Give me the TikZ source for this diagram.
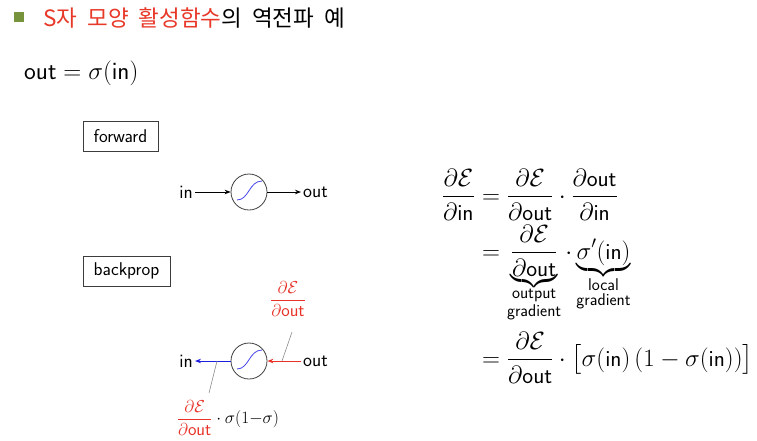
\documentclass[tikz,border=0pt]{standalone}
\usepackage{amsmath}
\usepackage{fontspec}
\newfontfamily\krfont{Noto Sans CJK KR}
\renewcommand{\familydefault}{\sfdefault}
\usetikzlibrary{arrows.meta}
\definecolor{bulletgreen}{RGB}{119,147,60}
\definecolor{titlered}{RGB}{232,56,40}
\definecolor{sigblue}{RGB}{70,70,235}
\definecolor{backblue}{RGB}{30,30,225}
\definecolor{backred}{RGB}{232,50,40}
\definecolor{framegray}{RGB}{60,60,60}
\newcommand{\sfo}{\mathsf{out}}
\newcommand{\sfi}{\mathsf{in}}
\newcommand{\cE}{\mathcal{E}}
\newcommand{\krsp}{\hspace{10pt}}
\newcommand{\sublabel}[2]{\mbox{\fontsize{17}{15}\selectfont\shortstack{#1\\#2}}}
\tikzset{
  bulletsq/.style={fill=bulletgreen, minimum size=10pt, inner sep=0pt},
  labelbox/.style={draw=framegray, line width=0.8pt, minimum height=30pt, inner sep=0pt, font=\fontsize{18.5}{20}\selectfont},
  neuron/.style={circle, draw=black!75, line width=0.8pt, minimum size=36pt, inner sep=0pt},
  lbl/.style={font=\fontsize{19}{21}\selectfont, inner sep=2pt},
  arr/.style={line width=0.8pt, -{Stealth[length=6pt,width=4.5pt]}},
  barr/.style={line width=1pt, -{Stealth[length=6pt,width=4.5pt]}},
  pointer/.style={draw=black!45, line width=0.6pt},
  sigcurve/.style={draw=sigblue, line width=0.8pt},
  eqrow/.style={font=\fontsize{23}{27}\selectfont, inner sep=0pt},
}
\begin{document}
\begin{tikzpicture}[x=1pt,y=-1pt]
\useasboundingbox (0,0) rectangle (757,440);
\fill[white] (0,0) rectangle (757,440);

% title
\node[bulletsq] (bullet) at (19,17) {};
\node[anchor=west, inner sep=0pt, font=\krfont\fontsize{22.5}{26}\selectfont] (title) at (43,18)
  {\textcolor{titlered}{S자\krsp 모양\krsp 활성함수}의\krsp 역전파\krsp 예};

% definition
\node[anchor=west, inner sep=0pt, font=\fontsize{25}{29}\selectfont] (def) at (24,73) {$\sfo = \sigma(\sfi)$};

% boxes
\node[labelbox, minimum width=75pt] (fwd) at (120.5,136) {forward};
\node[labelbox, minimum width=87pt] (bp) at (126.5,271) {backprop};

% forward diagram
\node[neuron] (n1) at (249,192) {};
\node[lbl, anchor=east] (in1) at (195,192) {in};
\node[lbl, anchor=west] (out1) at (301,192) {out};
\draw[arr] (in1) -- (n1);
\draw[arr] (n1) -- (out1);
\draw[sigcurve] ([shift={(-12,8)}]n1.center) .. controls ([shift={(0,8)}]n1.center) and ([shift={(0,-11)}]n1.center) .. ([shift={(13,-11)}]n1.center);

% backprop diagram
\node[neuron] (n2) at (249,361) {};
\node[lbl, anchor=east] (in2) at (195,361) {in};
\node[lbl, anchor=west] (out2) at (301,361) {out};
\draw[barr, backblue] (n2) -- (in2);
\draw[barr, backred] (out2) -- (n2);
\draw[sigcurve] ([shift={(-12,8)}]n2.center) .. controls ([shift={(0,8)}]n2.center) and ([shift={(0,-11)}]n2.center) .. ([shift={(13,-11)}]n2.center);

\node[font=\fontsize{18}{20}\selectfont, text=backred, inner sep=0pt] (gout) at (288,299) {$\dfrac{\partial\cE}{\partial\sfo}$};
\node[font=\fontsize{18}{20}\selectfont, inner sep=0pt] (gin) at (228,418) {$\color{backred}\dfrac{\partial\cE}{\partial\sfo}\color{black}\cdot\sigma(1{-}\sigma)$};
\coordinate (pr) at (282,361);
\coordinate (prs) at (292,332);
\coordinate (pb) at (217,361);
\coordinate (pbs) at (209,393);
\draw[pointer] (prs) -- (pr);
\draw[pointer] (pb) -- (pbs);

% equations
\node[eqrow, anchor=base east] (lhs) at (475,203) {$\displaystyle\frac{\partial\cE}{\partial\sfi}$};
\node[eqrow, anchor=base west] (row1) at (482,203) {$\displaystyle = \frac{\partial\cE}{\partial\sfo}\cdot\frac{\partial\sfo}{\partial\sfi}$};
\node[eqrow, anchor=base west] (row2) at (482,259) {$\displaystyle = \underbrace{\frac{\partial\cE}{\partial\sfo}}_{\sublabel{output}{gradient}}\cdot\underbrace{\sigma'(\sfi)}_{\sublabel{local}{gradient}}$};
\node[eqrow, anchor=base west] (row3) at (482,366) {$\displaystyle = \frac{\partial\cE}{\partial\sfo}\cdot\bigl[\sigma(\sfi)\,(1-\sigma(\sfi))\bigr]$};
\end{tikzpicture}
\end{document}
